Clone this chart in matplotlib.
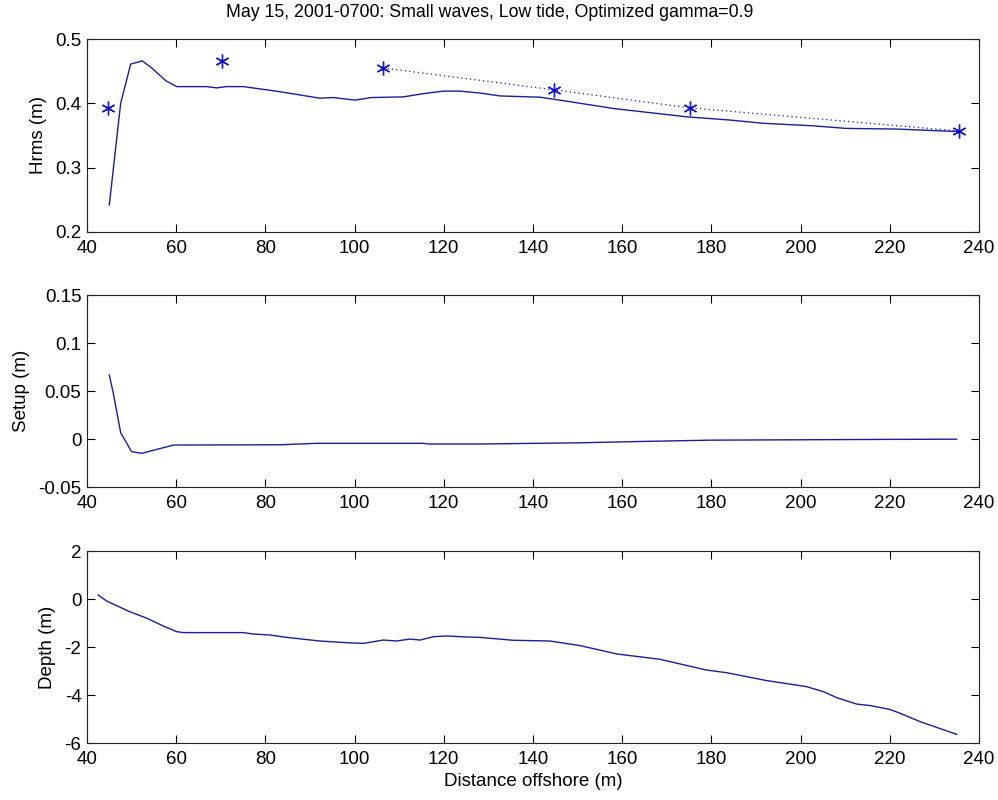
import matplotlib
matplotlib.use("Agg")
import matplotlib.pyplot as plt

plt.rcParams['font.family'] = ['Liberation Sans', 'DejaVu Sans']

title = "May 15, 2001-0700: Small waves, Low tide, Optimized gamma=0.9"

# Modelled Hrms
hrms_x = [45.0, 47.55, 49.8, 52.4, 54.5, 57.7, 60.1, 66.8, 69.1, 71.3, 75.0, 80.3, 83.3,
          92.2, 95.2, 100.1, 103.8, 110.9, 115.4, 119.9, 123.6, 128.1, 132.6, 141.6,
          146.0, 158.0, 174.5, 184.2, 191.6, 202.9, 210.3, 221.6, 235.7]
hrms_y = [0.242, 0.400, 0.461, 0.466, 0.455, 0.435, 0.426, 0.426, 0.424, 0.426, 0.426,
          0.421, 0.418, 0.408, 0.409, 0.405, 0.409, 0.410, 0.415, 0.419, 0.419, 0.416,
          0.4115, 0.4095, 0.405, 0.392, 0.379, 0.374, 0.369, 0.365, 0.361, 0.360, 0.356]

# Measured Hrms
meas_x = [44.6, 70.2, 106.4, 144.7, 175.1, 235.6]
meas_y = [0.392, 0.466, 0.455, 0.421, 0.393, 0.357]

# Setup
setup_x = [45.0, 45.9, 47.55, 50.0, 52.3, 59.4, 83.3, 91.5, 115.4, 116.5, 128.1,
           150.0, 165.0, 180.0, 200.0, 220.0, 235.0]
setup_y = [0.0667, 0.0476, 0.0066, -0.0132, -0.0149, -0.0063, -0.0060, -0.0045,
           -0.0045, -0.0052, -0.0052, -0.0040, -0.0025, -0.0012, -0.0008, -0.0004, -0.0002]

# Depth
depth_x = [42.5, 44.4, 49.6, 53.4, 57.1, 60.1, 61.6, 75.0, 77.3, 81.0, 84.8, 92.2, 98.2,
           102.0, 106.4, 109.4, 112.4, 114.7, 117.7, 120.7, 123.6, 128.1, 135.6, 143.8,
           150.5, 158.8, 168.4, 178.9, 183.4, 192.4, 201.3, 205.1, 208.1, 212.6, 215.6,
           220.0, 222.3, 226.8, 235.0]
depth_y = [0.167, -0.083, -0.53, -0.80, -1.125, -1.36, -1.40, -1.40, -1.46, -1.50, -1.60,
           -1.75, -1.82, -1.85, -1.71, -1.75, -1.67, -1.71, -1.57, -1.54, -1.57, -1.60,
           -1.72, -1.75, -1.94, -2.29, -2.51, -2.96, -3.07, -3.40, -3.65, -3.86, -4.11,
           -4.38, -4.44, -4.60, -4.76, -5.11, -5.64]

xticks = [40, 60, 80, 100, 120, 140, 160, 180, 200, 220, 240]

W, H = 998, 800
fig = plt.figure(figsize=(W / 100, H / 100), dpi=100)

def make_ax(top, bottom):
    left, right = 87, 979
    return fig.add_axes([left / W, 1 - bottom / H, (right - left) / W, (bottom - top) / H])

ax1 = make_ax(39, 232)
ax2 = make_ax(295, 487)
ax3 = make_ax(551, 743)

line_col = '#1c1c9c'
fs = 13.5

ax1.plot(hrms_x, hrms_y, color=line_col, lw=1.0)
ax1.plot(meas_x[2:], meas_y[2:], color=line_col, lw=0.9, ls=(0, (1, 2.5)))
ax1.plot(meas_x, meas_y, ls='none', marker=(6, 2, 0), ms=10, mew=1.0, color='#1a1ae0')
ax1.plot(meas_x, meas_y, ls='none', marker='.', ms=3, color='#0000a0')
ax1.set_ylim(0.2, 0.5)
ax1.set_yticks([0.2, 0.3, 0.4, 0.5])
ax1.set_yticklabels(['0.2', '0.3', '0.4', '0.5'])
ax1.set_ylabel('Hrms (m)', fontsize=fs)
fig.text(490 / W, 1 - 17 / H, title, fontsize=12.8, ha='center', va='baseline')

ax2.plot(setup_x, setup_y, color=line_col, lw=1.0)
ax2.set_ylim(-0.05, 0.15)
ax2.set_yticks([-0.05, 0, 0.05, 0.1, 0.15])
ax2.set_yticklabels(['-0.05', '0', '0.05', '0.1', '0.15'])
ax2.set_ylabel('Setup (m)', fontsize=fs)

ax3.plot(depth_x, depth_y, color=line_col, lw=1.0)
ax3.set_ylim(-6, 2)
ax3.set_yticks([-6, -4, -2, 0, 2])
ax3.set_yticklabels(['-6', '-4', '-2', '0', '2'])
ax3.set_ylabel('Depth (m)', fontsize=fs)
ax3.set_xlabel('Distance offshore (m)', fontsize=fs, labelpad=3)

for ax in (ax1, ax2, ax3):
    ax.set_xlim(40, 240)
    ax.set_xticks(xticks)
    ax.set_xticklabels([str(t) for t in xticks])
    ax.tick_params(direction='in', top=True, right=True, length=6, width=0.8,
                   labelsize=fs)
    ax.tick_params(axis='x', pad=6)
    ax.tick_params(axis='y', pad=4)
    for s in ax.spines.values():
        s.set_linewidth(0.8)
        s.set_color('#222222')
    ax.yaxis.labelpad = 6

fig.savefig('out.png', dpi=100)
